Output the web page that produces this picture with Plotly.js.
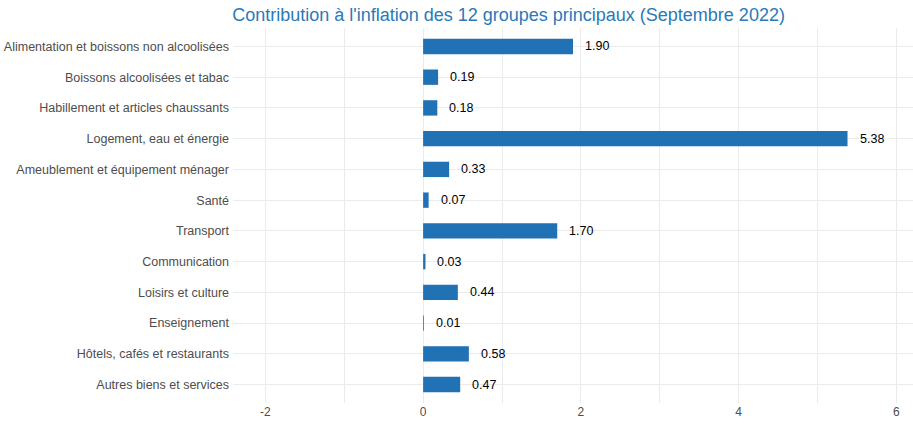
<!DOCTYPE html>
<html>
<head>
<meta charset="utf-8">
<script src="https://cdn.plot.ly/plotly-3.0.1.min.js"></script>
<style>
  html, body { margin: 0; padding: 0; background: #fff; }
  #chart { width: 913px; height: 424px; }
</style>
</head>
<body>
<div id="chart"></div>
<script>
const categories = [
  "Alimentation et boissons non alcoolisées",
  "Boissons alcoolisées et tabac",
  "Habillement et articles chaussants",
  "Logement, eau et énergie",
  "Ameublement et équipement ménager",
  "Santé",
  "Transport",
  "Communication",
  "Loisirs et culture",
  "Enseignement",
  "Hôtels, cafés et restaurants",
  "Autres biens et services"
];
const contributions = [1.90, 0.19, 0.18, 5.38, 0.33, 0.07, 1.70, 0.03, 0.44, 0.01, 0.58, 0.47];
const xTicks = [-2, 0, 2, 4, 6];

const BAR_BLUE = "#2171b5";
const GRID = "#ebebeb";

const trace = {
  type: "bar",
  orientation: "h",
  x: contributions,
  y: categories,
  width: 0.5,
  marker: { color: BAR_BLUE },
  hoverinfo: "x+y"
};

// value labels just right of each bar
const labels = categories.map((c, i) => ({
  x: contributions[i],
  y: c,
  text: contributions[i].toFixed(2),
  showarrow: false,
  xanchor: "left",
  xshift: 10,
  font: { family: "Liberation Sans, Arial, sans-serif", size: 12.5, color: "#000" }
}));

const layout = {
  width: 913,
  height: 424,
  margin: { l: 233, r: 0, t: 28, b: 21 },
  paper_bgcolor: "#fff",
  plot_bgcolor: "#fff",
  font: { family: "Liberation Sans, Arial, sans-serif", size: 12.5, color: "#4d4d4d" },
  title: {
    text: "Contribution à l'inflation des 12 groupes principaux (Septembre 2022)",
    font: { size: 18, color: "#2a79b9" },
    xref: "container",
    x: 0.557,
    xanchor: "center",
    y: 0.966,
    yanchor: "middle"
  },
  xaxis: {
    range: [-2.41, 6.21],
    tickvals: xTicks,
    ticktext: xTicks.map(String),
    showgrid: true,
    gridcolor: GRID,
    gridwidth: 1,
    minor: { dtick: 1, showgrid: true, gridcolor: GRID, gridwidth: 1 },
    zeroline: false,
    showline: false,
    ticks: "",
    ticklen: 0,
    tickfont: { size: 12, color: "#4d4d4d" }
  },
  yaxis: {
    type: "category",
    categoryorder: "array",
    categoryarray: categories,
    range: [11.6, -0.6],
    showgrid: true,
    gridcolor: GRID,
    gridwidth: 1,
    zeroline: false,
    showline: false,
    ticks: "",
    ticklen: 0,
    ticklabelstandoff: 3,
    tickfont: { size: 12.5, color: "#4d4d4d" }
  },
  annotations: labels,
  showlegend: false,
  bargap: 0.5
};

Plotly.newPlot("chart", [trace], layout, { displayModeBar: false, staticPlot: true });
</script>
</body>
</html>
